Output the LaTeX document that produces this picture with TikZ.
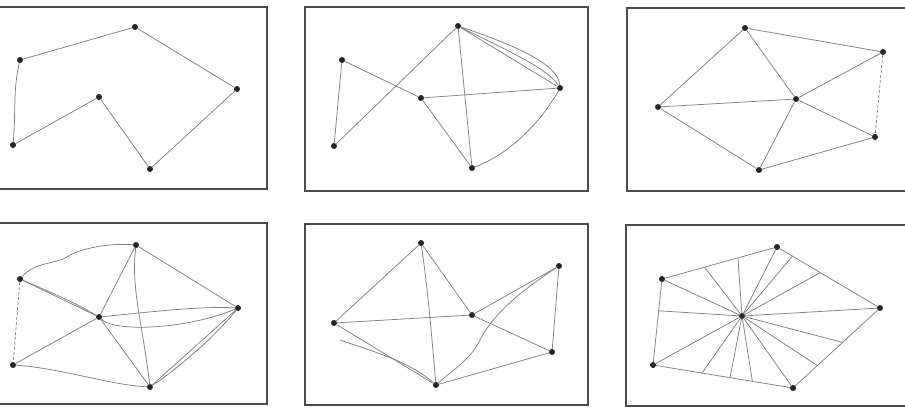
\documentclass[tikz,border=0pt]{standalone}
\usetikzlibrary{calc}

\tikzset{
  vtx/.style={circle, fill=black!85, inner sep=0pt, minimum size=6pt},
  frame/.style={draw=black!70, line width=1.8pt},
  edge/.style={draw=black!50, line width=0.75pt},
}

\begin{document}
\begin{tikzpicture}[x=1pt, y=-1pt]
  \clip (0,0) rectangle (905,407);
  \fill[white] (0,0) rectangle (905,407);

  % Panel 1: closed polygon
  \draw[frame] (-5,7) rectangle (267,189);
  \node[vtx] (a1) at (20,60) {};
  \node[vtx] (b1) at (135,27) {};
  \node[vtx] (c1) at (237,89) {};
  \node[vtx] (d1) at (150,169) {};
  \node[vtx] (e1) at (99,97) {};
  \node[vtx] (f1) at (13,145) {};
  \draw[edge] (a1) -- (b1) -- (c1) -- (d1) -- (e1) -- (f1);
  \draw[edge] (f1) .. controls (16,110) and (13,90) .. (a1);

  % Panel 2: fish
  \draw[frame] (305,7) rectangle (588,191);
  \node[vtx] (a2) at (342,60) {};
  \node[vtx] (b2) at (458,26) {};
  \node[vtx] (c2) at (560,88) {};
  \node[vtx] (d2) at (472,168) {};
  \node[vtx] (e2) at (421,98) {};
  \node[vtx] (f2) at (334,146) {};
  \draw[edge] (a2) -- (f2) -- (b2);
  \draw[edge] (a2) -- (e2) -- (c2);
  \draw[edge] (e2) -- (d2) -- (b2) -- (c2);
  \draw[edge] (b2) .. controls (500,47) and (548,68) .. (c2);
  \draw[edge] (b2) .. controls (505,42) and (558,62) .. (c2);
  \draw[edge] (c2) .. controls (545,115) and (515,152) .. (d2);

  % Panel 3: wheel
  \draw[frame] (627,8) rectangle (915,191);
  \node[vtx] (a3) at (745,28) {};
  \node[vtx] (b3) at (883,52) {};
  \node[vtx] (c3) at (796,99) {};
  \node[vtx] (d3) at (875,137) {};
  \node[vtx] (e3) at (759,170) {};
  \node[vtx] (f3) at (658,107) {};
  \draw[edge] (f3) -- (a3) -- (b3);
  \draw[edge, densely dashed] (b3) -- (d3);
  \draw[edge] (d3) -- (e3) -- (f3);
  \foreach \v in {a3,b3,d3,e3,f3}
    \draw[edge] (c3) -- (\v);

  % Panel 4: doubled and wavy strokes
  \draw[frame] (-5,223) rectangle (267,404);
  \node[vtx] (a4) at (136,245) {};
  \node[vtx] (b4) at (20,279) {};
  \node[vtx] (c4) at (99,317) {};
  \node[vtx] (d4) at (238,308) {};
  \node[vtx] (e4) at (13,365) {};
  \node[vtx] (f4) at (150,387) {};
  \draw[edge] (a4) -- (d4);
  \draw[edge] (a4) -- (c4) -- (f4);
  \draw[edge] (e4) -- (c4);
  \draw[edge, densely dashed] (b4) -- (e4);
  \draw[edge] (b4) -- (c4);
  \draw[edge] (b4) .. controls (48,291) and (76,303) .. (c4);
  \draw[edge] (b4) .. controls (35,262) and (55,264) .. (67,257)
                   .. controls (80,248) and (110,243) .. (a4);
  \draw[edge] (a4) .. controls (131,290) and (142,320) .. (f4);
  \draw[edge] (c4) .. controls (150,312) and (200,306) .. (d4);
  \draw[edge] (c4) .. controls (114,332) and (185,330) .. (d4);
  \draw[edge] (e4) .. controls (60,368) and (110,385) .. (f4);
  \draw[edge] (f4) -- (d4);
  \draw[edge] (f4) .. controls (173,372) and (212,340) .. (d4);

  % Panel 5: boat
  \draw[frame] (305,224) rectangle (588,405);
  \node[vtx] (a5) at (421,243) {};
  \node[vtx] (b5) at (559,266) {};
  \node[vtx] (c5) at (472,315) {};
  \node[vtx] (d5) at (334,323) {};
  \node[vtx] (e5) at (552,352) {};
  \node[vtx] (f5) at (436,385) {};
  \coordinate (s5) at (340,340);
  \draw[edge] (d5) -- (a5) -- (c5) -- (b5) -- (e5) -- (f5) -- (d5);
  \draw[edge] (d5) -- (c5) -- (e5);
  \draw[edge] (a5) .. controls (428,290) and (432,340) .. (f5);
  \draw[edge] (f5) .. controls (455,368) and (470,360) .. (480,340)
                   .. controls (495,310) and (530,285) .. (b5);
  \draw[edge] (s5) .. controls (375,352) and (410,362) .. (f5);

  % Panel 6: fan of spokes
  \draw[frame] (626,225) rectangle (915,406);
  \node[vtx] (a6) at (777,247) {};
  \node[vtx] (b6) at (880,308) {};
  \node[vtx] (c6) at (793,388) {};
  \node[vtx] (d6) at (653,365) {};
  \node[vtx] (e6) at (662,279) {};
  \node[vtx] (o6) at (742,316) {};
  \draw[edge] (a6) -- (b6) -- (c6) -- (d6) -- (e6) -- (a6);
  \foreach \v in {a6,b6,c6,d6,e6}
    \draw[edge] (o6) -- (\v);
  \foreach \p/\q/\t in {e6/a6/0.37, e6/a6/0.66, a6/b6/0.15, a6/b6/0.42,
                        b6/c6/0.43, b6/c6/0.72, c6/d6/0.29, c6/d6/0.45,
                        c6/d6/0.65, d6/e6/0.63}
    \draw[edge] (o6) -- ($(\p)!\t!(\q)$);
\end{tikzpicture}
\end{document}
